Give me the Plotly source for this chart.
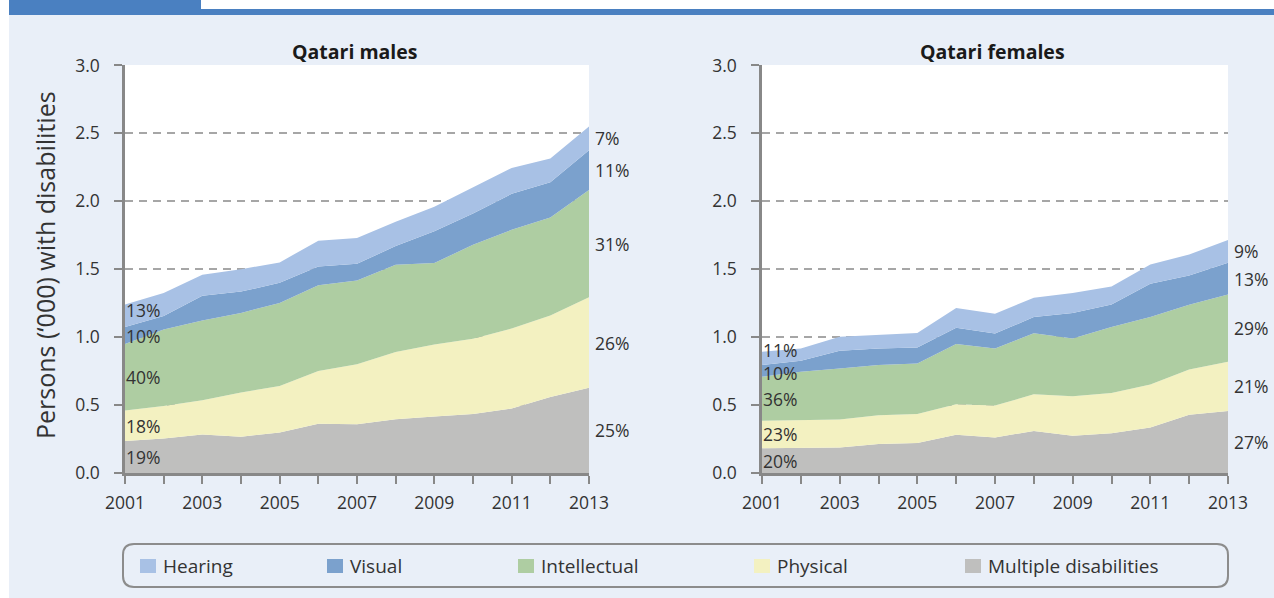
import plotly.graph_objects as go

years = list(range(2001, 2014))
categories = ["Multiple disabilities", "Physical", "Intellectual", "Visual", "Hearing"]
colors = {"Hearing": "#A8C1E5", "Visual": "#7BA1CD", "Intellectual": "#AECDA2",
          "Physical": "#F3F1C1", "Multiple disabilities": "#BFBFBE"}

# Qatari males ('000 persons)
male_multiple = [0.235, 0.254, 0.284, 0.267, 0.298, 0.362, 0.359, 0.396, 0.416, 0.435, 0.474, 0.560, 0.628]
male_physical = [0.225, 0.240, 0.251, 0.325, 0.343, 0.389, 0.441, 0.494, 0.530, 0.553, 0.590, 0.599, 0.665]
male_intellectual = [0.490, 0.562, 0.587, 0.586, 0.611, 0.630, 0.616, 0.643, 0.599, 0.692, 0.726, 0.721, 0.790]
male_visual = [0.125, 0.099, 0.183, 0.157, 0.148, 0.139, 0.124, 0.137, 0.235, 0.230, 0.265, 0.260, 0.292]
male_hearing = [0.165, 0.170, 0.155, 0.165, 0.150, 0.190, 0.190, 0.180, 0.180, 0.190, 0.190, 0.175, 0.175]

# Qatari females ('000 persons)
female_multiple = [0.183, 0.183, 0.188, 0.213, 0.220, 0.281, 0.261, 0.310, 0.274, 0.293, 0.335, 0.428, 0.457]
female_physical = [0.201, 0.205, 0.205, 0.212, 0.215, 0.225, 0.235, 0.269, 0.290, 0.296, 0.317, 0.334, 0.361]
female_intellectual = [0.325, 0.357, 0.377, 0.369, 0.371, 0.444, 0.420, 0.450, 0.426, 0.486, 0.496, 0.477, 0.496]
female_visual = [0.085, 0.081, 0.129, 0.122, 0.118, 0.120, 0.110, 0.119, 0.188, 0.166, 0.245, 0.215, 0.233]
female_hearing = [0.098, 0.090, 0.103, 0.098, 0.107, 0.144, 0.147, 0.142, 0.146, 0.132, 0.141, 0.154, 0.168]

# share labels (bottom to top), first year and last year
male_start_pct = ["19%", "18%", "40%", "10%", "13%"]
male_end_pct = ["25%", "26%", "31%", "11%", "7%"]
female_start_pct = ["20%", "23%", "36%", "10%", "11%"]
female_end_pct = ["27%", "21%", "29%", "13%", "9%"]

y_ticks = [0.0, 0.5, 1.0, 1.5, 2.0, 2.5, 3.0]
legend_order = ["Hearing", "Visual", "Intellectual", "Physical", "Multiple disabilities"]

W, H = 1274, 598
FONT = "Open Sans, Noto Sans, sans-serif"
TXT = "#333333"
BG = "#E9EFF8"


def px(x):
    return x / W


def py(y):
    return 1 - y / H


male = [male_multiple, male_physical, male_intellectual, male_visual, male_hearing]
female = [female_multiple, female_physical, female_intellectual, female_visual, female_hearing]

fig = go.Figure()
annotations = []

# small vertical nudges (px) for the crowded first-year labels, bottom to top
panels = [
    ("x", "y", male, male_start_pct, male_end_pct, [0, 0, 0, -1, 6]),
    ("x2", "y2", female, female_start_pct, female_end_pct, [0, 0, 0, -2, 8]),
]
for xa, ya, series, spct, epct, nudges in panels:
    for name, vals in zip(categories, series):
        fig.add_trace(go.Scatter(
            x=years, y=vals, name=name, mode="lines", stackgroup="s" + xa,
            line=dict(width=0), fillcolor=colors[name], xaxis=xa, yaxis=ya,
            showlegend=False,
        ))
    base0 = 0.0
    base1 = 0.0
    for vals, t0, t1, nd in zip(series, spct, epct, nudges):
        annotations.append(dict(x=years[0], y=base0 + vals[0] / 2, xref=xa, yref=ya, text=t0,
                                showarrow=False, xanchor="left", yanchor="middle", xshift=0,
                                yshift=nd, borderpad=0,
                                font=dict(family=FONT, size=17.5, color=TXT)))
        annotations.append(dict(x=years[-1], y=base1 + vals[-1] / 2, xref=xa, yref=ya, text=t1,
                                showarrow=False, xanchor="left", yanchor="middle", xshift=5,
                                borderpad=0,
                                font=dict(family=FONT, size=17.5, color=TXT)))
        base0 += vals[0]
        base1 += vals[-1]

axis_common = dict(showline=True, linecolor="#888888", linewidth=2.5, mirror=False,
                   automargin=False, tickfont=dict(family=FONT, size=17.5, color=TXT))
xcommon = dict(axis_common, range=[2001, 2013], tickmode="array",
               tickvals=years[::2], ticktext=[str(v) for v in years[::2]],
               ticks="outside", ticklen=8, tickwidth=2, tickcolor="#888888",
               minor=dict(tickvals=years, ticks="outside", ticklen=8, tickwidth=2, tickcolor="#888888"),
               showgrid=False, zeroline=False, ticklabelstandoff=4)
ycommon = dict(axis_common, range=[0, 3.003], tickmode="array", tickvals=y_ticks,
               ticktext=["%.1f" % v for v in y_ticks],
               ticks="outside", ticklen=8, tickwidth=2, tickcolor="#888888",
               showgrid=True, gridcolor="#A6A6A6", gridwidth=1.5, griddash="8px,6px",
               zeroline=False, ticklabelstandoff=11)

yd = [py(473), py(65)]
fig.update_layout(
    width=W, height=H, margin=dict(l=0, r=0, t=0, b=0, pad=0),
    paper_bgcolor=BG, plot_bgcolor="white", showlegend=False,
    xaxis=dict(xcommon, domain=[px(125), px(589)], anchor="y"),
    yaxis=dict(ycommon, domain=yd, anchor="x"),
    xaxis2=dict(xcommon, domain=[px(762), px(1228)], anchor="y2"),
    yaxis2=dict(ycommon, domain=yd, anchor="x2"),
)

# titles
annotations.append(dict(x=px(355), y=py(51), xref="paper", yref="paper", text="<b>Qatari males</b>",
                        showarrow=False, xanchor="center", yanchor="middle",
                        font=dict(family=FONT, size=19.5, color="#1a1a1a")))
annotations.append(dict(x=px(992), y=py(51), xref="paper", yref="paper", text="<b>Qatari females</b>",
                        showarrow=False, xanchor="center", yanchor="middle",
                        font=dict(family=FONT, size=19.5, color="#1a1a1a")))
annotations.append(dict(x=px(45), y=py(265), xref="paper", yref="paper",
                        text="Persons (\u2018000) with disabilities", textangle=-90,
                        showarrow=False, xanchor="center", yanchor="middle",
                        font=dict(family=FONT, size=25, color=TXT)))

shapes = []
# white strip at the left edge and the blue header bar
shapes.append(dict(type="rect", xref="paper", yref="paper", x0=0, x1=px(9), y0=0, y1=1,
                   fillcolor="white", line=dict(width=0), layer="below"))
shapes.append(dict(type="rect", xref="paper", yref="paper", x0=px(201), x1=1, y0=py(9), y1=1,
                   fillcolor="white", line=dict(width=0)))
shapes.append(dict(type="rect", xref="paper", yref="paper", x0=px(9), x1=px(201), y0=py(15), y1=1,
                   fillcolor="#4A80C1", line=dict(width=0)))
shapes.append(dict(type="rect", xref="paper", yref="paper", x0=px(201), x1=1, y0=py(15), y1=py(9),
                   fillcolor="#4A80C1", line=dict(width=0)))

# legend box with rounded corners
lx0, lx1, ly0, ly1, r = 123, 1228, 544, 587, 11


def P(x, y):
    return "%f,%f" % (px(x), py(y))


path = ("M " + P(lx0 + r, ly0) + " L " + P(lx1 - r, ly0) + " Q " + P(lx1, ly0) + " " + P(lx1, ly0 + r) +
        " L " + P(lx1, ly1 - r) + " Q " + P(lx1, ly1) + " " + P(lx1 - r, ly1) +
        " L " + P(lx0 + r, ly1) + " Q " + P(lx0, ly1) + " " + P(lx0, ly1 - r) +
        " L " + P(lx0, ly0 + r) + " Q " + P(lx0, ly0) + " " + P(lx0 + r, ly0) + " Z")
shapes.append(dict(type="path", xref="paper", yref="paper", path=path,
                   line=dict(color="#8C8C8C", width=2), fillcolor=BG))

legend_x = [140, 327, 518, 754, 965]
for name, lx in zip(legend_order, legend_x):
    shapes.append(dict(type="rect", xref="paper", yref="paper", x0=px(lx), x1=px(lx + 16),
                       y0=py(573), y1=py(559), fillcolor=colors[name], line=dict(width=0)))
    annotations.append(dict(x=px(lx + 21), y=py(566), xref="paper", yref="paper", text=name,
                            showarrow=False, xanchor="left", yanchor="middle",
                            font=dict(family=FONT, size=19, color=TXT)))

fig.update_layout(shapes=shapes, annotations=annotations)
fig.write_html("out.html", config={"displayModeBar": False},
               post_script="document.body.style.margin='0px';document.body.style.overflow='hidden';")
